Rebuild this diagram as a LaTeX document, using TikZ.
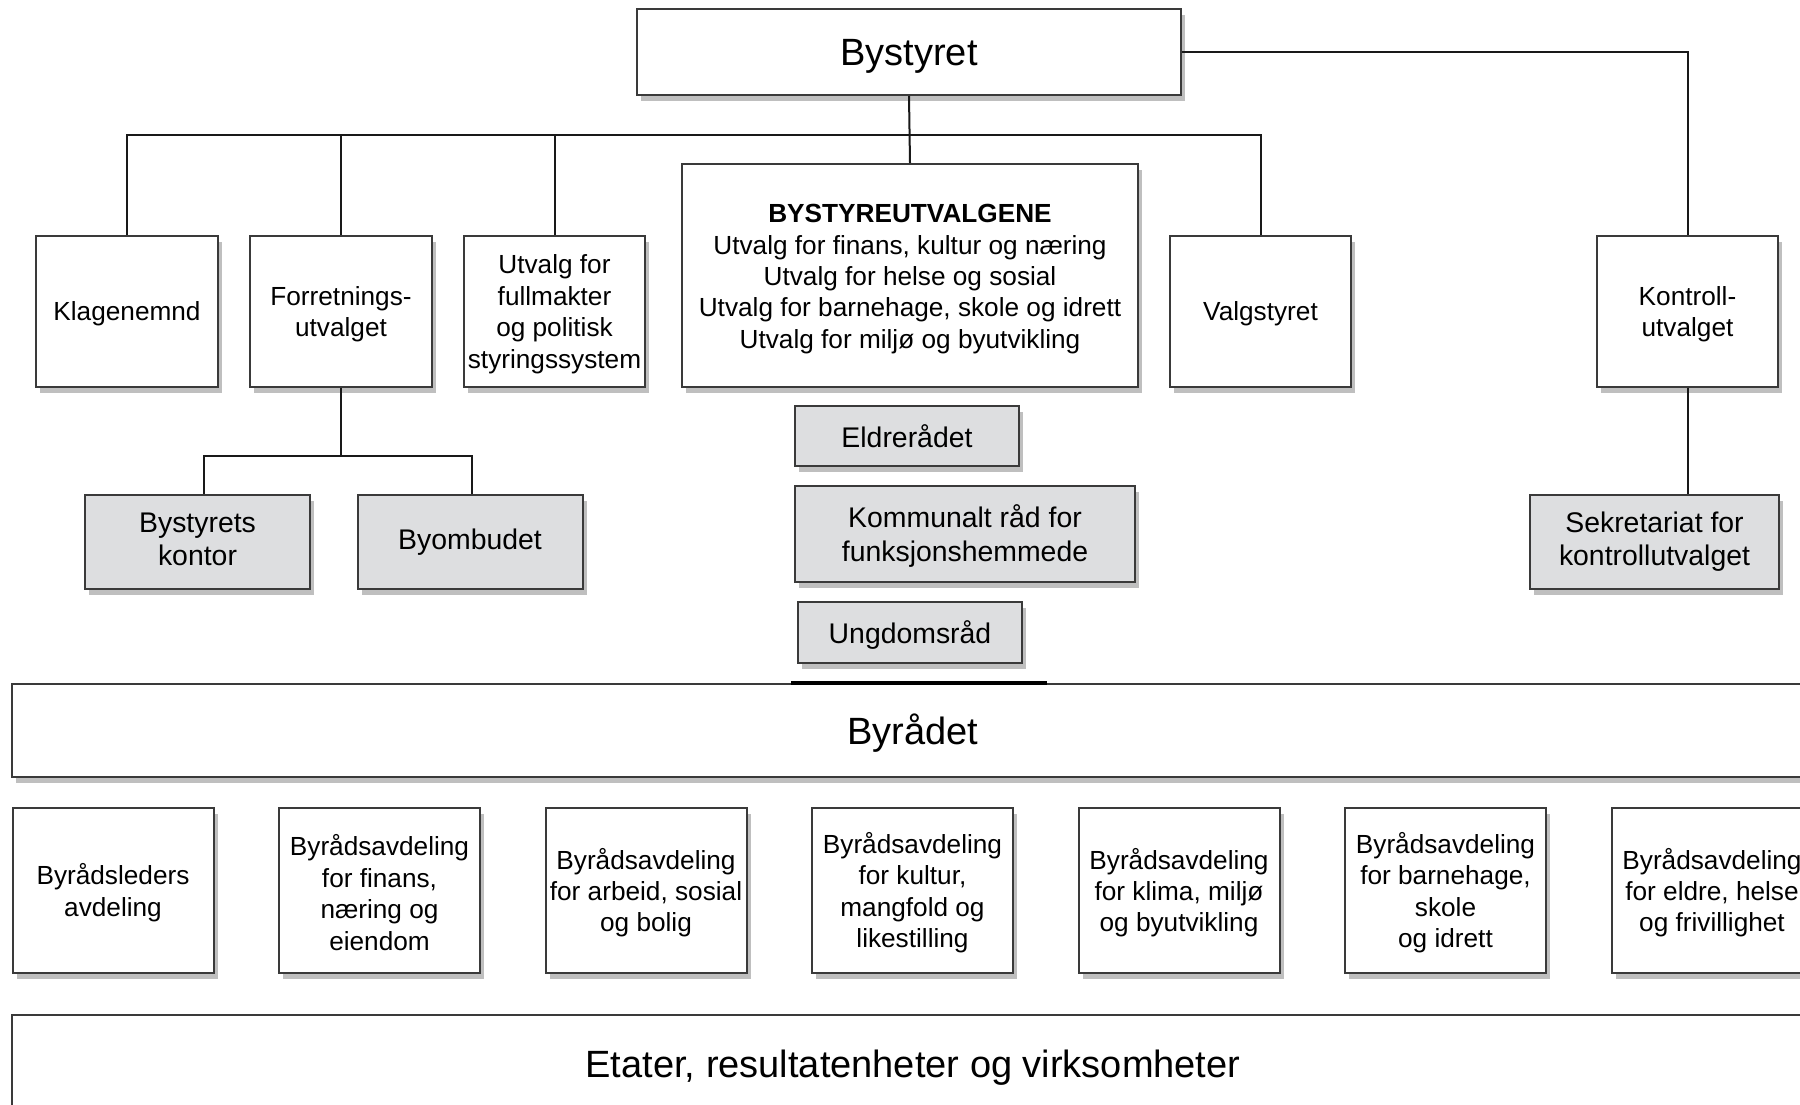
\documentclass[tikz,border=0pt]{standalone}
\usepackage{fontspec}
\setmainfont{Liberation Sans}
\usetikzlibrary{shadows,calc}
\newcommand{\fA}{\fontsize{13.1}{15.7}\selectfont}
\newcommand{\fB}{\fontsize{14.2}{16.6}\selectfont}
\newcommand{\fC}{\fontsize{19}{23}\selectfont}
\newcommand{\myS}{\rule{0pt}{0.97em}}
\definecolor{edge}{HTML}{3A3A3A}
\definecolor{boxgray}{HTML}{DDDEE0}
\tikzset{
  basebox/.style={draw=edge, fill=white, line width=1pt, align=center, inner sep=0pt,
    font=\fA, drop shadow={shadow xshift=2pt, shadow yshift=-3pt, opacity=0.25, fill=black}},
  box/.style={basebox, execute at begin node={\rule{0pt}{0.94em}}},
  graybox/.style={basebox, fill=boxgray, font=\fB},
  bigbox/.style={box, font=\fC},
  conn/.style={draw=black!90, line width=1pt}
}
\begin{document}
\begin{tikzpicture}[x=0.5pt, y=-0.5pt]
\path[use as bounding box] (0,0) rectangle (1800,1104);
\clip (0,0) rectangle (1800,1104);
\fill[white] (0,0) rectangle (1800,1104);

% top
\node[bigbox, minimum width=272pt, minimum height=43pt] (bystyret) at (909,52) {Bystyret};

\node[box, minimum width=91pt, minimum height=75.5pt] (klage) at (127,311) {Klagenemnd};
\node[box, minimum width=91pt, minimum height=75.5pt] (forr) at (341,311) {\myS Forretnings-\\utvalget};
\node[box, minimum width=90.5pt, minimum height=75.5pt] (fullm) at (554.5,311) {\myS Utvalg for\\fullmakter\\og politisk\\styringssystem};
\node[box, minimum width=228pt, minimum height=111.5pt] (utvalgene) at (910,275.5) {\myS\textbf{BYSTYREUTVALGENE}\\Utvalg for finans, kultur og næring\\Utvalg for helse og sosial\\Utvalg for barnehage, skole og idrett\\Utvalg for miljø og byutvikling};
\node[box, minimum width=90.5pt, minimum height=75.5pt] (valg) at (1260.5,311) {Valgstyret};
\node[box, minimum width=90.5pt, minimum height=75.5pt] (kontroll) at (1687.5,311) {\myS Kontroll-\\utvalget};

% gray boxes
\node[graybox, minimum width=112.5pt, minimum height=47pt, execute at end node={\rule[-2.9pt]{0pt}{0pt}}] (kontor) at (197.5,542) {Bystyrets\\kontor};
\node[graybox, minimum width=112.5pt, minimum height=47pt] (ombud) at (470,542) {Byombudet};
\node[graybox, minimum width=112pt, minimum height=30pt] (eldre) at (907,436) {Eldrerådet};
\node[graybox, minimum width=170pt, minimum height=48pt] (kommunalt) at (965,534) {\rule{0pt}{0.95em}Kommunalt råd for\\funksjonshemmede};
\node[graybox, minimum width=112pt, minimum height=30.5pt, execute at begin node={\rule{0pt}{0.95em}}] (ungdom) at (910,632.5) {Ungdomsråd};
\node[graybox, minimum width=124.5pt, minimum height=47pt] (sekr) at (1654.5,542) {Sekretariat for\\kontrollutvalget};

% byraadet
\node[bigbox, minimum width=901pt, minimum height=46.5pt] (byradet) at (913,730.5) {Byrådet};

% departments
\node[box, minimum width=100.5pt, minimum height=82.5pt] (d1) at (113,890.5) {\myS Byrådsleders\\avdeling};
\node[box, minimum width=100.5pt, minimum height=82.5pt] (d2) at (379.5,890.5) {\myS Byrådsavdeling\\for finans,\\næring og\\eiendom};
\node[box, minimum width=100.5pt, minimum height=82.5pt] (d3) at (646,890.5) {\myS Byrådsavdeling\\for arbeid, sosial\\og bolig};
\node[box, minimum width=100.5pt, minimum height=82.5pt] (d4) at (912.5,890.5) {\myS Byrådsavdeling\\for kultur,\\mangfold og\\likestilling};
\node[box, minimum width=100.5pt, minimum height=82.5pt] (d5) at (1179,890.5) {\myS Byrådsavdeling\\for klima, miljø\\og byutvikling};
\node[box, minimum width=100.5pt, minimum height=82.5pt] (d6) at (1445.5,890.5) {\myS Byrådsavdeling\\for barnehage,\\skole\\og idrett};
\node[box, minimum width=100.5pt, minimum height=82.5pt] (d7) at (1712,890.5) {\myS Byrådsavdeling\\for eldre, helse\\og frivillighet};

\node[basebox, font=\fC, execute at begin node={\rule{0pt}{0.85em}}, minimum width=901pt, minimum height=50pt] (etater) at (913,1065) {Etater, resultatenheter og virksomheter};

% connectors
\coordinate (bus) at (0,135);
\draw[conn] (bystyret.south) -- (utvalgene.north);
\draw[conn] (klage.north) -- (klage.north |- bus) -| (valg.north);
\draw[conn] (forr.north) -- (forr.north |- bus);
\draw[conn] (fullm.north) -- (fullm.north |- bus);
\draw[conn] (bystyret.east) -| (kontroll.north);
\draw[conn] (kontroll.south) -- (kontroll.south |- sekr.north);

\coordinate (fj) at (341,456);
\coordinate (kl) at (204,456);
\coordinate (kr) at (472,456);
\draw[conn] (forr.south) -- (fj);
\draw[conn] (kl |- kontor.north) -- (kl) -- (kr) -- (kr |- ombud.north);

\draw[line width=2pt, black] ([xshift=-3pt]ungdom.west |- byradet.north) -- ([xshift=12pt]ungdom.east |- byradet.north);
\end{tikzpicture}
\end{document}
